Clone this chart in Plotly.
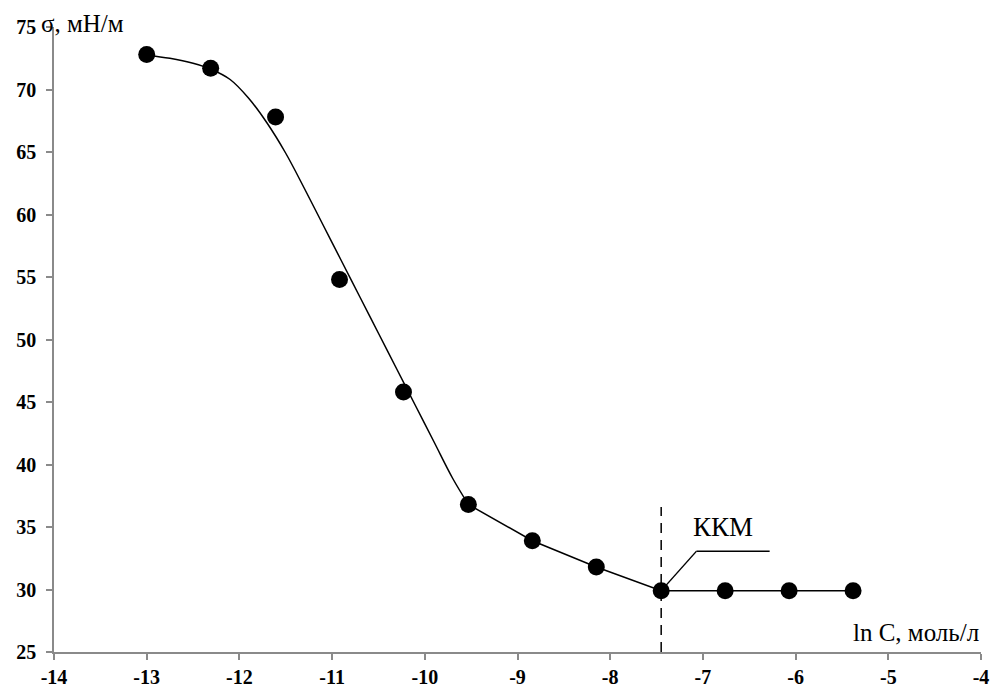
import plotly.graph_objects as go

# Surface tension vs. ln of surfactant concentration
ln_c = [-13.0, -12.31, -11.61, -10.92, -10.23, -9.53, -8.84, -8.15, -7.45, -6.76, -6.07, -5.38]
sigma = [72.8, 71.7, 67.8, 54.8, 45.8, 36.8, 33.9, 31.8, 29.9, 29.9, 29.9, 29.9]

# Smoothed trend over the steep (pre-micellar) region
fit_x = [-13.0, -12.75, -12.5, -12.3, -12.1, -11.9, -11.7, -11.5, -11.3, -11.1,
         -10.9, -10.7, -10.5, -10.3, -10.1, -9.9, -9.7, -9.53]
fit_y = [72.75, 72.5, 72.1, 71.6, 70.8, 69.3, 67.3, 64.9, 62.1, 59.2,
         56.3, 53.4, 50.5, 47.6, 44.7, 41.8, 38.9, 36.8]

# Critical micelle concentration marker
cmc_index = 8
cmc_label = "ККМ"
x_title = "ln C, моль/л"
y_title = "σ, мН/м"
x_ticks = list(range(-14, -3))
x_tick_text = [str(v) for v in x_ticks]
y_ticks = list(range(25, 80, 5))
y_tick_text = [str(v) for v in y_ticks]

SERIF = "Liberation Serif, Times New Roman, serif"
AXIS_GREY = "#8a8a8a"

fig = go.Figure()

fig.add_trace(go.Scatter(
    x=fit_x, y=fit_y, mode="lines",
    line=dict(color="black", width=1.5, shape="spline", smoothing=1.0),
    hoverinfo="skip", showlegend=False,
))
fig.add_trace(go.Scatter(
    x=ln_c[5:], y=sigma[5:], mode="lines",
    line=dict(color="black", width=1.5),
    hoverinfo="skip", showlegend=False,
))
fig.add_trace(go.Scatter(
    x=ln_c, y=sigma, mode="markers",
    marker=dict(color="black", size=17, line=dict(width=0)),
    showlegend=False,
))

x_cmc = ln_c[cmc_index]
y_cmc = sigma[cmc_index]

# Dashed vertical line at the CMC
fig.add_shape(type="line", xref="x", yref="y",
              x0=x_cmc, x1=x_cmc, y0=25, y1=36.6,
              line=dict(color="black", width=1.5, dash="10px,7px"))
# Leader line to the label
fig.add_shape(type="line", xref="x", yref="y",
              x0=x_cmc, y0=y_cmc, x1=-7.07, y1=33.06,
              line=dict(color="black", width=1.2))
fig.add_shape(type="line", xref="x", yref="y",
              x0=-7.07, y0=33.06, x1=-6.28, y1=33.06,
              line=dict(color="black", width=1.5))

fig.add_annotation(x=-6.78, y=35.0, xref="x", yref="y", text=cmc_label,
                   showarrow=False, font=dict(family=SERIF, size=27, color="black"))
fig.add_annotation(x=1.0, y=0.006, xref="paper", yref="paper", text=x_title,
                   showarrow=False, xanchor="right", yanchor="bottom",
                   font=dict(family=SERIF, size=25, color="black"))
fig.add_annotation(x=-0.016, y=1.006, xref="paper", yref="paper", text=y_title,
                   showarrow=False, xanchor="left", yanchor="middle",
                   font=dict(family=SERIF, size=25, color="black"))

axis_common = dict(
    showline=True, linecolor=AXIS_GREY, linewidth=1.5,
    ticks="outside", tickcolor=AXIS_GREY, tickwidth=1.5, ticklen=6,
    showgrid=False, zeroline=False, automargin=False,
    tickfont=dict(family=SERIF, size=20, color="black", weight="bold"),
)

fig.update_xaxes(range=[-14, -4], tickvals=x_ticks, ticktext=x_tick_text, **axis_common)
fig.update_yaxes(range=[25, 75], tickvals=y_ticks, ticktext=y_tick_text,
                 ticklabelstandoff=6, **axis_common)

fig.update_layout(
    width=995, height=690,
    margin=dict(l=54, r=14, t=27, b=38),
    paper_bgcolor="white", plot_bgcolor="white",
    showlegend=False,
)

fig.write_html("out.html")
